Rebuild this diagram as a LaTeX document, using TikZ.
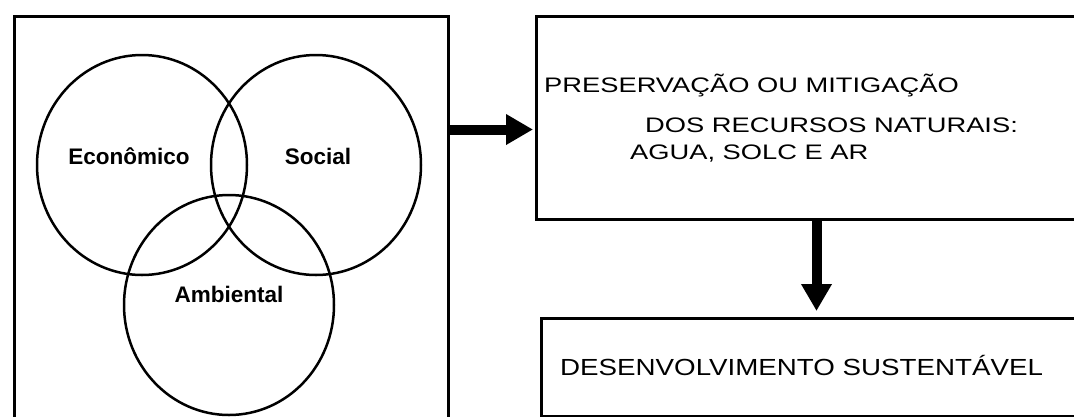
\documentclass[tikz,border=0pt]{standalone}
\usepackage{fontspec}
\setmainfont{Liberation Sans}
\usetikzlibrary{arrows.meta}

\begin{document}
\begin{tikzpicture}[x=1pt, y=-1pt,
    box/.style={draw, line width=3pt, rectangle, anchor=north west, inner sep=0pt},
    ring/.style={line width=2.5pt},
    bigarrow/.style={line width=10pt, -{Triangle[length=27pt,width=29pt]}},
    lbl/.style={font=\fontsize{22.5}{26}\selectfont\bfseries, anchor=base},
    txt/.style={font=\fontsize{21}{25}\selectfont, anchor=base west, inner sep=0pt}]
    \clip (0,0) rectangle (1074,416);

    % boxes
    \node[box, minimum width=434.5pt, minimum height=420pt] (venn) at (12.5,15) {};
    \node[box, minimum width=560pt, minimum height=203pt] (preserv) at (535,15) {};
    \node[box, minimum width=560pt, minimum height=98pt] (desenv) at (540,317) {};

    % the three rings
    \draw[ring] (142,165) ellipse [x radius=105, y radius=110];
    \draw[ring] (316,165) ellipse [x radius=105, y radius=110];
    \draw[ring] (229,305) ellipse [x radius=105, y radius=110];

    \node[lbl] (eco) at (129,164) {Econômico};
    \node[lbl] (soc) at (318,164) {Social};
    \node[lbl] (amb) at (229,302) {Ambiental};

    % text of the boxes
    \node[txt] (pl1) at (544,92) {\scalebox{1.3}[1]{PRESERVAÇÃO OU MITIGAÇÃO}};
    \node[txt] (pl2) at (645,132) {\scalebox{1.3}[1]{DOS RECURSOS NATURAIS:}};
    \node[txt] (pl3) at (630,159) {\scalebox{1.3}[1]{AGUA, SOLC E AR}};
    \node[txt, font=\fontsize{23.3}{27}\selectfont] (dl1) at (560,375)
        {\scalebox{1.19}[1]{DESENVOLVIMENTO SUSTENTÁVEL}};

    % arrows
    \draw[bigarrow, shorten >=2pt] ([yshift=-11.5pt]preserv.west -| venn.east) -- ([yshift=-11.5pt]preserv.west);
    \draw[bigarrow, shorten >=6pt] (preserv.south) -- (preserv.south |- desenv.north);

\end{tikzpicture}
\end{document}
